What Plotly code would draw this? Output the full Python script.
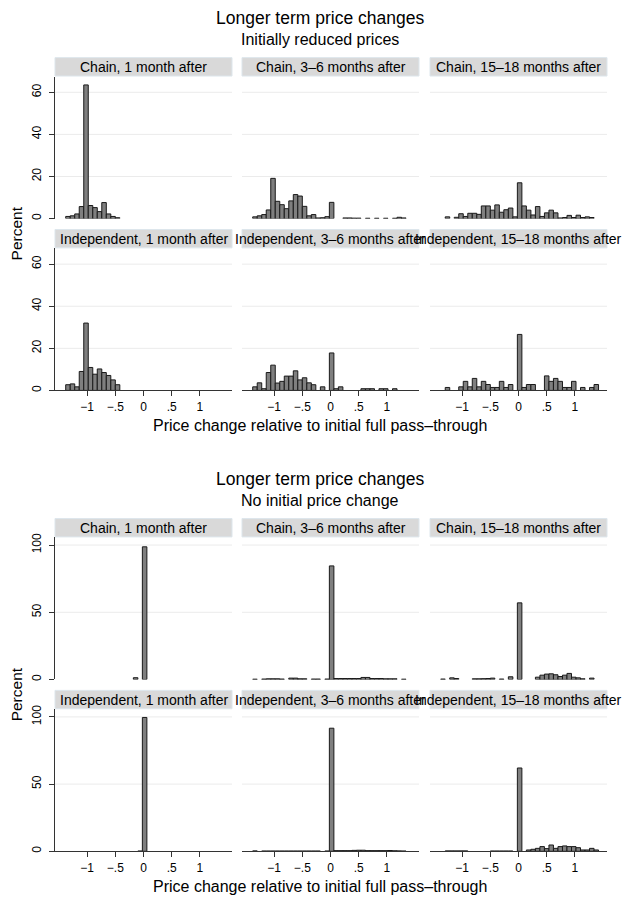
import plotly.graph_objects as go

# ---------------- data ----------------
BIN_START = -1.38
BIN_WIDTH = 0.08
N_BINS = 35
bin_centers = [round(BIN_START + BIN_WIDTH * (i + 0.5), 3) for i in range(N_BINS)]

x_tickvals = [-1, -0.5, 0, 0.5, 1]
x_ticktext = ["\u22121", "\u2212.5", "0", ".5", "1"]

fig_titles = ["Longer term price changes", "Longer term price changes"]
fig_subtitles = ["Initially reduced prices", "No initial price change"]
x_title = "Price change relative to initial full pass\u2013through"
y_title = "Percent"

panel_titles = [
    "Chain, 1 month after", "Chain, 3\u20136 months after", "Chain, 15\u201318 months after",
    "Independent, 1 month after", "Independent, 3\u20136 months after", "Independent, 15\u201318 months after",
]

# Initially reduced prices (percent per bin)
chain_1m_red = [1.0, 1.3, 2.2, 5.7, 63.5, 6.2, 5.2, 3.3, 7.6, 2.2, 1.0, 0.4,
                0, 0, 0, 0, 0, 0, 0, 0, 0, 0, 0, 0, 0, 0, 0, 0, 0, 0, 0, 0, 0, 0, 0]
chain_36_red = [0.8, 1.3, 1.9, 4.1, 19.1, 8.2, 6.6, 4.7, 8.4, 11.4, 10.7, 5.8, 1.3, 1.9, 0.3,
                0.4, 0.9, 7.7, 0, 0, 0.3, 0.3, 0.2, 0.2, 0, 0.15, 0, 0.15, 0, 0.15, 0, 0.15,
                0.6, 0.3, 0]
chain_1518_red = [0, 0.8, 0, 0.6, 2.3, 1.0, 2.5, 2.5, 2.0, 6.0, 6.0, 4.0, 6.5, 3.0, 4.2, 5.0,
                  0.8, 17.0, 6.0, 4.0, 1.7, 5.7, 1.0, 2.7, 4.0, 2.7, 0.3, 0.5, 1.5, 0.5, 1.6,
                  0.5, 0.8, 0.5, 0]
indep_1m_red = [2.7, 3.1, 1.7, 9.0, 32.0, 10.9, 7.7, 10.2, 8.5, 7.1, 5.0, 2.7,
                0, 0, 0, 0, 0, 0, 0, 0, 0, 0, 0, 0, 0, 0, 0, 0, 0, 0, 0, 0, 0, 0, 0]
indep_36_red = [1.7, 3.6, 0.8, 8.5, 12.0, 3.5, 4.3, 6.8, 6.8, 9.3, 5.0, 6.0, 3.6, 2.7, 0,
                1.7, 0, 17.8, 0.8, 1.7, 0, 0, 0, 0, 0.8, 0.8, 0.8, 0, 0.8, 0.8, 0, 0.8, 0, 0, 0]
indep_1518_red = [0, 1.4, 0, 0, 1.7, 4.3, 1.7, 5.7, 1.7, 4.3, 2.8, 1.4, 1.4, 4.3, 1.4, 2.8,
                  0, 26.6, 1.4, 2.8, 2.8, 0, 0, 6.9, 4.3, 5.7, 4.3, 1.4, 1.4, 4.3, 0, 1.4,
                  0, 1.4, 2.8]

# No initial price change (percent per bin)
chain_1m_nochg = [0, 0, 0, 0, 0, 0, 0, 0, 0, 0, 0, 0, 0, 0, 0, 1.3, 0, 98.7,
                  0, 0, 0, 0, 0, 0, 0, 0, 0, 0, 0, 0, 0, 0, 0, 0, 0]
chain_36_nochg = [0.2, 0, 0.3, 0.5, 0.5, 0.5, 0.3, 0, 1.0, 1.0, 0.5, 0.5, 0, 0.3, 0.3, 0,
                  0.3, 84.5, 0.7, 0.7, 0.7, 0.7, 0.7, 0.7, 1.5, 1.5, 0.7, 0.7, 0.7, 0.5,
                  0.5, 0.5, 0, 0.2, 0]
chain_1518_nochg = [0.3, 0, 1.2, 0.7, 0, 0, 0, 0.5, 0.5, 0.6, 0.7, 1.0, 0, 0.3, 0, 2.0, 0,
                    57.0, 0, 0, 0, 1.7, 3.2, 4.0, 4.2, 3.5, 2.2, 3.2, 4.5, 1.7, 1.2, 0.5,
                    0, 1.0, 0]
indep_1m_nochg = [0, 0, 0, 0, 0, 0, 0, 0, 0, 0, 0, 0, 0, 0, 0, 0, 0.2, 99.6,
                  0, 0, 0, 0, 0, 0, 0, 0, 0, 0, 0, 0, 0, 0, 0, 0, 0]
indep_36_nochg = [0.3, 0, 0.2, 0.2, 0.2, 0.2, 0.2, 0.2, 0.2, 0.2, 0.2, 0.2, 0.2, 0.2, 0.2,
                  0, 0.2, 91.6, 0.5, 0.5, 0.5, 0.5, 0.7, 0.8, 0.8, 0.5, 0.5, 0.5, 0.5, 0.5,
                  0.6, 0.4, 0.3, 0.2, 0]
indep_1518_nochg = [0, 0.3, 0.3, 0.3, 0.3, 0.3, 0, 0, 0, 0, 0, 0.2, 0.2, 0.2, 0.2, 0.2, 0,
                    62.0, 0, 1.0, 1.5, 2.2, 3.5, 2.0, 4.7, 2.2, 3.5, 4.0, 3.5, 3.5, 2.7,
                    1.0, 1.0, 2.2, 1.0]

panel_values = [
    chain_1m_red, chain_36_red, chain_1518_red,
    indep_1m_red, indep_36_red, indep_1518_red,
    chain_1m_nochg, chain_36_nochg, chain_1518_nochg,
    indep_1m_nochg, indep_36_nochg, indep_1518_nochg,
]

y_ticks_top = [0, 20, 40, 60]
y_ticks_bottom = [0, 50, 100]

# ---------------- layout geometry (pixels) ----------------
W, H = 622, 899
FONT = "Liberation Sans, Arial, Helvetica, sans-serif"


def px(x):
    return x / W


def py(y):
    return 1 - y / H


col_px = [(55, 232), (242, 419), (430, 607)]
row_px = [(73, 216), (246, 389), (537, 680), (710, 853)]
row_ymax = [67.5, 67.5, 105.7, 105.7]
X_RANGE = [-1.57, 1.57]

BAR_FILL = "#7f7f7f"
BAR_LINE = "#1a1a1a"
GRID = "#ebebeb"
AXIS = "#333333"
STRIP_FILL = "#d9d9d9"
STRIP_LINE = "#dde6ec"

fig = go.Figure()
layout_axes = {}
shapes = []
annotations = []

for r in range(4):
    for c in range(3):
        n = r * 3 + c + 1
        sfx = "" if n == 1 else str(n)
        vals = panel_values[n - 1]
        yv = [v if v > 0 else None for v in vals]
        fig.add_trace(go.Bar(
            x=bin_centers, y=yv, width=BIN_WIDTH,
            xaxis=f"x{sfx}", yaxis=f"y{sfx}",
            marker=dict(color=BAR_FILL, line=dict(color=BAR_LINE, width=1)),
            showlegend=False, hoverinfo="x+y",
        ))
        bottom_row = r in (1, 3)
        ticks_y = y_ticks_top if r < 2 else y_ticks_bottom
        x0, x1 = col_px[c]
        t, b = row_px[r]
        layout_axes[f"xaxis{sfx}"] = dict(
            domain=[px(x0), px(x1)], anchor=f"y{sfx}", range=X_RANGE,
            tickvals=x_tickvals, ticktext=x_ticktext,
            showticklabels=bottom_row, ticks="outside" if bottom_row else "",
            ticklen=5, tickwidth=1, tickcolor=AXIS,
            showline=bottom_row, linecolor=AXIS, linewidth=1,
            showgrid=False, zeroline=False, fixedrange=True,
            tickfont=dict(family=FONT, size=12, color="#000"),
        )
        layout_axes[f"yaxis{sfx}"] = dict(
            domain=[py(b), py(t)], anchor=f"x{sfx}", range=[0, row_ymax[r]],
            tickvals=ticks_y, ticktext=[str(v) for v in ticks_y],
            showticklabels=(c == 0), ticks="outside" if c == 0 else "",
            ticklen=5, tickwidth=1, tickcolor=AXIS, tickangle=-90,
            showline=(c == 0), linecolor=AXIS, linewidth=1,
            showgrid=False, zeroline=False, fixedrange=True,
            tickfont=dict(family=FONT, size=12, color="#000"),
            ticklabelstandoff=3,
        )
        # gridlines (not at 0)
        for gv in ticks_y[1:]:
            shapes.append(dict(
                type="line", xref=f"x{sfx} domain", x0=0, x1=1,
                yref=f"y{sfx}", y0=gv, y1=gv, layer="below",
                line=dict(color=GRID, width=1),
            ))
        # strip header
        shapes.append(dict(
            type="rect", xref="paper", yref="paper",
            x0=px(x0), x1=px(x1), y0=py(t - 0.5), y1=py(t - 19),
            fillcolor=STRIP_FILL, line=dict(color=STRIP_LINE, width=1), layer="above",
        ))
        annotations.append(dict(
            text=panel_titles[(r % 2) * 3 + c], xref="paper", yref="paper",
            x=px((x0 + x1) / 2), y=py(t - 9.5), xanchor="center", yanchor="middle",
            showarrow=False, font=dict(family=FONT, size=14, color="#000"),
        ))

# figure titles, subtitles, axis titles
for k, off in enumerate([0, 464]):
    annotations.append(dict(
        text=fig_titles[k], xref="paper", yref="paper", x=px(320), y=py(14 + off),
        xanchor="center", yanchor="middle", showarrow=False,
        font=dict(family=FONT, size=17.5, color="#000"),
    ))
    annotations.append(dict(
        text=fig_subtitles[k], xref="paper", yref="paper", x=px(320), y=py(36 + off),
        xanchor="center", yanchor="middle", showarrow=False,
        font=dict(family=FONT, size=16, color="#000"),
    ))
    annotations.append(dict(
        text=x_title, xref="paper", yref="paper", x=px(320), y=py(424 + off),
        xanchor="center", yanchor="middle", showarrow=False,
        font=dict(family=FONT, size=16, color="#000"),
    ))
    annotations.append(dict(
        text=y_title, xref="paper", yref="paper", x=px(16), y=py(231 + off),
        xanchor="center", yanchor="middle", showarrow=False, textangle=-90,
        font=dict(family=FONT, size=15.5, color="#000"),
    ))

fig.update_layout(
    width=W, height=H,
    margin=dict(l=0, r=0, t=0, b=0),
    paper_bgcolor="white", plot_bgcolor="white",
    font=dict(family=FONT, color="#000"),
    barmode="overlay",
    shapes=shapes, annotations=annotations,
    **layout_axes,
)

fig.write_html(
    "out.html",
    config={"displayModeBar": False, "staticPlot": True},
    post_script="document.body.style.margin='0';document.body.style.padding='0';",
)
